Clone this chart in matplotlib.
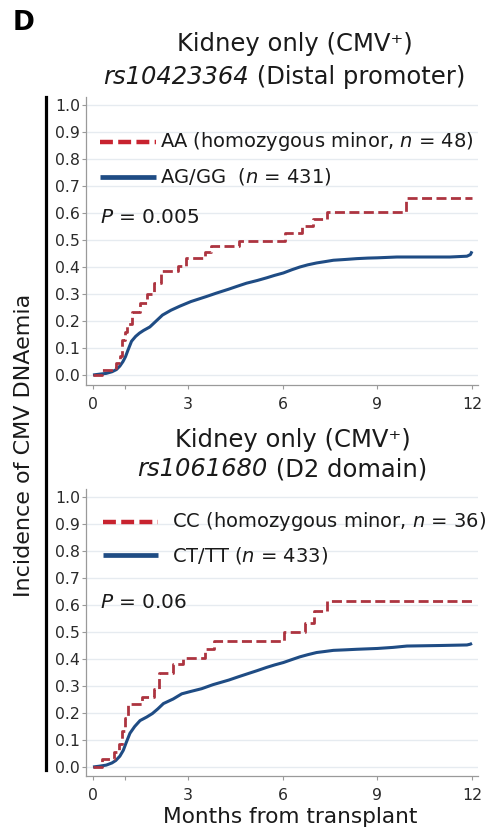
import matplotlib
matplotlib.use("Agg")
import matplotlib.pyplot as plt
from matplotlib.lines import Line2D

plt.rcParams['font.family'] = ['DejaVu Sans']
plt.rcParams['mathtext.fontset'] = 'dejavusans'

# ---- data -------------------------------------------------------------
# Upper panel: rs10423364 (Distal promoter)
aa_months = [0, 0.30, 0.62, 0.74, 0.86, 0.93, 1.00, 1.08, 1.22, 1.50, 1.72,
             1.94, 2.15, 2.70, 2.96, 3.54, 3.74, 4.62, 6.08, 6.62, 6.96,
             7.42, 9.90, 12.0]
aa_incidence = [0, 0.017, 0.025, 0.045, 0.07, 0.13, 0.16, 0.19, 0.235, 0.265,
                0.30, 0.34, 0.385, 0.405, 0.433, 0.455, 0.477, 0.498, 0.525,
                0.551, 0.577, 0.603, 0.657, 0.657]

ag_months = [0, 0.2, 0.42, 0.6, 0.74, 0.85, 0.95, 1.03, 1.11, 1.22, 1.35,
             1.47, 1.6, 1.8, 2.0, 2.2, 2.47, 2.75, 3.1, 3.6, 3.9, 4.3, 4.55,
             4.86, 5.2, 5.5, 5.75, 6.03, 6.3, 6.55, 6.8, 7.08, 7.35, 7.61,
             8.0, 8.35, 8.7, 9.0, 9.62, 10.5, 11.3, 11.84, 11.95, 12.0]
ag_incidence = [0, 0.003, 0.006, 0.012, 0.02, 0.033, 0.05, 0.068, 0.093,
                0.125, 0.143, 0.155, 0.165, 0.178, 0.2, 0.222, 0.24, 0.255,
                0.272, 0.291, 0.303, 0.318, 0.328, 0.34, 0.35, 0.36, 0.369,
                0.378, 0.39, 0.40, 0.408, 0.415, 0.42, 0.425, 0.428, 0.431,
                0.433, 0.434, 0.437, 0.437, 0.437, 0.44, 0.446, 0.458]

# Lower panel: rs1061680 (D2 domain)
cc_months = [0, 0.30, 0.68, 0.82, 0.92, 1.00, 1.12, 1.55, 1.92, 2.10, 2.52,
             2.86, 3.55, 3.82, 6.05, 6.72, 7.00, 7.42, 12.0]
cc_incidence = [0, 0.03, 0.056, 0.085, 0.135, 0.18, 0.232, 0.258, 0.29,
                0.348, 0.38, 0.405, 0.437, 0.467, 0.50, 0.535, 0.577, 0.616,
                0.616]

ct_months = [0, 0.2, 0.42, 0.6, 0.72, 0.85, 0.96, 1.05, 1.17, 1.32, 1.49,
             1.7, 1.88, 2.05, 2.23, 2.54, 2.81, 3.1, 3.44, 3.8, 4.3, 4.6,
             4.86, 5.2, 5.5, 5.75, 6.03, 6.3, 6.55, 6.8, 7.08, 7.35, 7.61,
             8.0, 8.35, 9.0, 9.5, 9.94, 11.0, 11.84, 11.95, 12.0]
ct_incidence = [0, 0.003, 0.007, 0.015, 0.024, 0.04, 0.062, 0.09, 0.125,
                0.15, 0.172, 0.185, 0.198, 0.215, 0.235, 0.252, 0.271, 0.28,
                0.29, 0.305, 0.322, 0.334, 0.344, 0.357, 0.369, 0.378, 0.387,
                0.398, 0.408, 0.416, 0.424, 0.428, 0.432, 0.434, 0.436, 0.439,
                0.443, 0.448, 0.45, 0.452, 0.455, 0.458]

y_ticks = [0.0, 0.1, 0.2, 0.3, 0.4, 0.5, 0.6, 0.7, 0.8, 0.9, 1.0]
x_ticks = [0, 1, 3, 6, 9, 12]
x_ticklabels = ['0', '', '3', '6', '9', '12']

panels = [
    dict(title1='Kidney only (CMV\u207a)',
         snp='rs10423364', region=' (Distal promoter)',
         minor_label=r'AA (homozygous minor, $\mathit{n}$ = 48)',
         major_label=r'AG/GG  ($\mathit{n}$ = 431)',
         p_text=r'$\mathit{P}$ = 0.005',
         minor=(aa_months, aa_incidence), major=(ag_months, ag_incidence)),
    dict(title1='Kidney only (CMV\u207a)',
         snp='rs1061680', region=' (D2 domain)',
         minor_label=r'CC (homozygous minor, $\mathit{n}$ = 36)',
         major_label=r'CT/TT ($\mathit{n}$ = 433)',
         p_text=r'$\mathit{P}$ = 0.06',
         minor=(cc_months, cc_incidence), major=(ct_months, ct_incidence)),
]

# ---- styling ----------------------------------------------------------
W, H = 490, 830
RED = '#ad3440'
RED_KEY = '#c8232f'
BLUE = '#1f4c84'
GRID = '#e6ebf0'
SPINE = '#9a9a9a'
TXT = '#1a1a1a'
DASH = (0, (3.6, 1.6))
TITLE_SIZE = 17.5
KEY_SIZE = 14.0

fig = plt.figure(figsize=(W / 100, H / 100), dpi=100)
renderer = fig.canvas.get_renderer()


def fx(px):
    return px / W


def fy(py):
    return 1 - py / H


# pixel layout of each panel: axes box, zero line, title / key / P positions
layout = [
    dict(top=97, bottom=385, zero=375, t1=(295, 44), t2=(284, 77),
         key_line=(0.22, 2.0), key_text=2.12, key_y=(0.864, 0.734),
         p_y=0.585),
    dict(top=489, bottom=776, zero=767, t1=(293, 440), t2=(282, 469),
         key_line=(0.32, 2.06), key_text=2.50, key_y=(0.908, 0.785),
         p_y=0.608),
]
PX_PER_UNIT_Y = 270.0
X_LEFT, X_RIGHT = 86, 478
X0_PX, PX_PER_MONTH = 93, 31.58

for spec, lay in zip(panels, layout):
    ax = fig.add_axes([fx(X_LEFT), fy(lay['bottom']),
                       (X_RIGHT - X_LEFT) / W, (lay['bottom'] - lay['top']) / H])
    ax.set_xlim((X_LEFT - X0_PX) / PX_PER_MONTH, 12 + (X_RIGHT - 472) / PX_PER_MONTH)
    ax.set_ylim((lay['zero'] - lay['bottom']) / PX_PER_UNIT_Y,
                (lay['zero'] - lay['top']) / PX_PER_UNIT_Y)

    for v in y_ticks:
        ax.axhline(v, color=GRID, lw=1.0, zorder=0)

    mx, my = spec['minor']
    jx, jy = spec['major']
    ax.plot(jx, jy, color=BLUE, lw=2.2, solid_capstyle='butt', zorder=3)
    ax.plot(mx, my, color=RED, lw=2.0, linestyle=DASH,
            drawstyle='steps-post', zorder=4)

    # key
    kx0, kx1 = lay['key_line']
    ky1, ky2 = lay['key_y']
    ax.plot([kx0, kx1], [ky1, ky1], color=RED_KEY, lw=3.2,
            linestyle=(0, (2.9, 1.2)), solid_capstyle='butt')
    ax.plot([kx0, kx1], [ky2, ky2], color=BLUE, lw=3.4, solid_capstyle='butt')
    ax.text(lay['key_text'], ky1, spec['minor_label'], fontsize=KEY_SIZE,
            color=TXT, va='center', ha='left')
    ax.text(lay['key_text'], ky2, spec['major_label'], fontsize=KEY_SIZE,
            color=TXT, va='center', ha='left')
    ax.text(0.22, lay['p_y'], spec['p_text'], fontsize=14.5, color=TXT,
            va='center', ha='left')

    for s in ('top', 'right'):
        ax.spines[s].set_visible(False)
    for s in ('left', 'bottom'):
        ax.spines[s].set_color(SPINE)
        ax.spines[s].set_linewidth(0.9)

    ax.set_yticks(y_ticks)
    ax.set_yticklabels([f'{v:.1f}' for v in y_ticks])
    ax.set_xticks(x_ticks)
    ax.set_xticklabels(x_ticklabels)
    ax.tick_params(axis='both', direction='out', length=3, width=0.8,
                   color=SPINE, labelcolor='#2a2a2a', labelsize=11.3)
    ax.tick_params(axis='y', pad=1.2)
    ax.tick_params(axis='x', pad=5.5)

    fig.text(fx(lay['t1'][0]), fy(lay['t1'][1]), spec['title1'],
             fontsize=TITLE_SIZE, color=TXT, ha='center', va='center')

    # second title line: italic SNP id followed by upright region name
    t_snp = fig.text(0, fy(lay['t2'][1]), spec['snp'], fontsize=TITLE_SIZE,
                     style='italic', color=TXT, ha='left', va='center')
    t_reg = fig.text(0, fy(lay['t2'][1]), spec['region'], fontsize=TITLE_SIZE,
                     color=TXT, ha='left', va='center')
    w_snp = t_snp.get_window_extent(renderer).width
    w_reg = t_reg.get_window_extent(renderer).width
    start = lay['t2'][0] - (w_snp + w_reg) / 2
    t_snp.set_x(fx(start))
    t_reg.set_x(fx(start + w_snp))

# shared y label and bracket bar
fig.text(fx(24), fy(445), 'Incidence of CMV DNAemia', rotation=90,
         fontsize=16, color=TXT, ha='center', va='center')
fig.add_artist(Line2D([fx(46), fx(46)], [fy(97), fy(770)], color='black',
                      lw=2.3, transform=fig.transFigure))

fig.text(fx(290), fy(817), 'Months from transplant', fontsize=15.6,
         color=TXT, ha='center', va='center')
fig.text(fx(24), fy(22.5), 'D', fontsize=19, fontweight='bold', color='black',
         ha='center', va='center')

fig.savefig('out.png', dpi=100)
